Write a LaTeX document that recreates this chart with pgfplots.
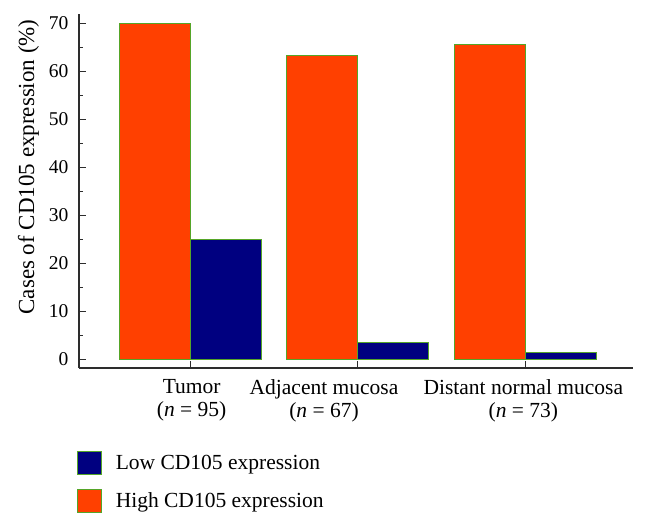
\documentclass[border=0pt]{standalone}
\usepackage{fontspec}
\setmainfont{Liberation Serif}
\usepackage{pgfplots}
\pgfplotsset{compat=1.18}
\definecolor{hiorange}{RGB}{255,64,0}
\definecolor{lonavy}{RGB}{0,0,128}
\definecolor{edgegreen}{RGB}{85,165,40}
\definecolor{axgray}{RGB}{45,45,45}
\newcommand\tickfont{\fontsize{19.5}{22}\selectfont}
\newcommand\labfont{\fontsize{21.5}{23}\selectfont}
\newcommand\ylabfont{\fontsize{23}{25}\selectfont}
\begin{document}
\begin{tikzpicture}
\path[use as bounding box] (-79pt,-160pt) rectangle (575pt,368pt);
\begin{axis}[
  at={(0pt,0pt)}, anchor=south west,
  scale only axis, width=554pt, height=354pt,
  xmin=-0.6627, xmax=2.6448,
  ymin=-1.875, ymax=71.875,
  axis lines*=left,
  axis line style={axgray, line width=1.3pt},
  ybar, bar width=71pt,
  xtick={0,1,2}, xticklabels={},
  extra x ticks={0.01,0.80,1.99},
  extra x tick labels={Tumor\\(\textit{n} = 95),Adjacent mucosa\\(\textit{n} = 67),Distant normal mucosa\\(\textit{n} = 73)},
  extra x tick style={major tick length=0pt, tick label style={font=\labfont, align=center, text depth=0pt, yshift=-8pt}},
  ytick={0,10,...,70},
  minor ytick={5,15,...,65},
  tick align=inside,
  major tick length=7pt, minor tick length=4pt,
  tick style={axgray, line width=1pt},
  /pgf/number format/assume math mode=true,
  yticklabel style={font=\tickfont, xshift=-7pt},
  ylabel={Cases of CD105 expression (\%)},
  every axis y label/.style={at={(axis description cs:-0.091,0.568)}, rotate=90, anchor=center, font=\ylabfont},
  legend style={draw=none, fill=none, at={(axis description cs:-0.004,-0.235)}, anchor=north west,
    font=\labfont, row sep=14pt, inner sep=0pt, outer sep=0pt,
    nodes={inner sep=0pt, anchor=west},
    /tikz/every odd column/.append style={column sep=14pt}},
  legend cell align=left,
]
\addlegendimage{legend image code/.code={\draw[fill=lonavy, draw=edgegreen, line width=1pt] (0pt,-11.5pt) rectangle (24pt,11.5pt);}}
\addlegendentry{Low CD105 expression}
\addlegendimage{legend image code/.code={\draw[fill=hiorange, draw=edgegreen, line width=1pt] (0pt,-11.5pt) rectangle (24pt,11.5pt);}}
\addlegendentry{High CD105 expression}
\addplot[forget plot, bar shift=-35.5pt, fill=hiorange, draw=edgegreen, line width=1pt]
  coordinates {(0,70) (1,63.3) (2,65.6)};
\addplot[forget plot, bar shift=35.5pt, fill=lonavy, draw=edgegreen, line width=1pt]
  coordinates {(0,25) (1,3.4) (2,1.4)};
\end{axis}
\end{tikzpicture}
\end{document}
